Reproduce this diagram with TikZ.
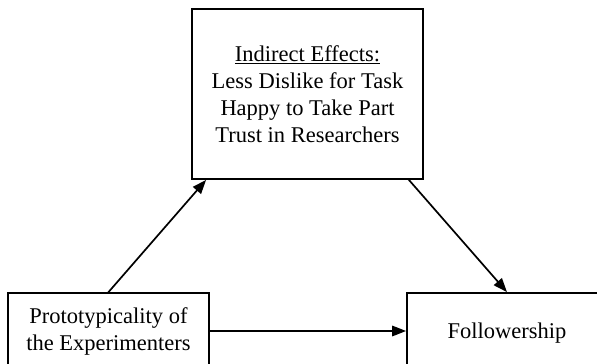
\documentclass[tikz,border=0pt]{standalone}
\usepackage{fontspec}
\setmainfont{Liberation Serif}
\usetikzlibrary{arrows.meta}

\begin{document}
\begin{tikzpicture}[
  x=1pt, y=-1pt,
  >={Triangle[length=14pt,width=10.5pt]},
  box/.style={draw, line width=1.8pt, align=center, inner sep=0pt,
    font=\fontsize{22.5}{27}\selectfont},
  path/.style={->, line width=1.7pt, shorten <=-0.5pt}
]
  \useasboundingbox (0,0) rectangle (597,364);
  \clip (0,0) rectangle (597,364);

  \node[box, minimum width=231pt, minimum height=170pt] (indirect) at (307.5,94)
    {\underline{Indirect Effects:}\\Less Dislike for Task\\Happy to Take Part\\Trust in Researchers};
  \node[box, minimum width=201pt, minimum height=76pt] (proto) at (108.5,331)
    {Prototypicality of\\the Experimenters};
  \node[box, minimum width=200pt, minimum height=80pt] (follow) at (507,333)
    {Followership};

  \draw[path] (proto.north) -- ([xshift=15pt]indirect.south west);
  \draw[path] ([xshift=-15pt]indirect.south east) -- (follow.north);
  \draw[path] (proto.east) -- (proto.east -| follow.west);
\end{tikzpicture}
\end{document}
